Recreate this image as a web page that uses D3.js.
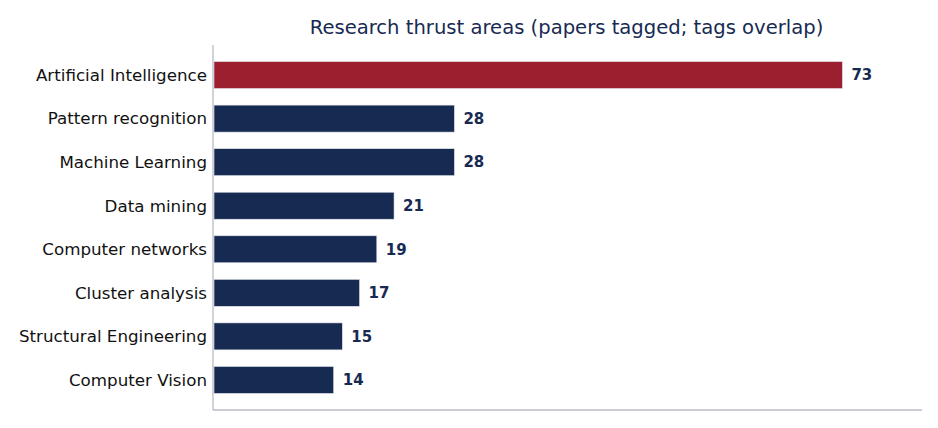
<!DOCTYPE html>
<html>
<head>
<meta charset="utf-8">
<script src="https://cdn.jsdelivr.net/npm/d3@7"></script>
<style>
  body { margin: 0; background: #fff; }
  text { font-family: "DejaVu Sans", sans-serif; }
</style>
</head>
<body>
<div id="chart"></div>
<script>
// data
const areas = [
  "Artificial Intelligence",
  "Pattern recognition",
  "Machine Learning",
  "Data mining",
  "Computer networks",
  "Cluster analysis",
  "Structural Engineering",
  "Computer Vision",
];
const papers = [73, 28, 28, 21, 19, 17, 15, 14];

const data = areas.map((a, i) => ({ area: a, count: papers[i] }));

// metrics
const width = 938;
const height = 428;
const marginTop = 45;
const marginLeft = 213;
const marginRight = 18;
const plotBottom = 410;

const navy = "#172a52";
const red = "#9b1f2e";

const svg = d3.select("#chart")
  .append("svg")
  .attr("width", width)
  .attr("height", height);

// scales
const xScale = d3.scaleLinear()
  .domain([0, 82])
  .range([marginLeft, width - marginRight]);

const yScale = d3.scaleBand()
  .domain(areas)
  .range([marginTop, plotBottom])
  .padding(0.38);

// bars
svg.append("g")
  .selectAll("rect")
  .data(data)
  .join("rect")
  .attr("x", xScale(0) + 1)
  .attr("y", (d) => yScale(d.area))
  .attr("width", (d) => xScale(d.count) - xScale(0) - 1)
  .attr("height", yScale.bandwidth())
  .attr("fill", (d, i) => (i === 0 ? red : navy))
  .attr("stroke", "#e6e8ee")
  .attr("stroke-width", 0.6);

// value labels
svg.append("g")
  .selectAll("text")
  .data(data)
  .join("text")
  .attr("x", (d) => xScale(d.count) + 9)
  .attr("y", (d) => yScale(d.area) + yScale.bandwidth() / 2)
  .attr("dy", "0.35em")
  .attr("font-size", 15)
  .attr("font-weight", "bold")
  .attr("fill", navy)
  .text((d) => d.count);

// category labels
svg.append("g")
  .selectAll("text")
  .data(data)
  .join("text")
  .attr("x", marginLeft - 6)
  .attr("y", (d) => yScale(d.area) + yScale.bandwidth() / 2)
  .attr("dy", "0.35em")
  .attr("text-anchor", "end")
  .attr("font-size", 16.7)
  .attr("fill", "#111")
  .text((d) => d.area);

// axis lines (left and bottom only)
svg.append("line")
  .attr("x1", marginLeft).attr("x2", marginLeft)
  .attr("y1", marginTop).attr("y2", plotBottom)
  .attr("stroke", "#b8bcc6").attr("stroke-width", 1.3);
svg.append("line")
  .attr("x1", marginLeft).attr("x2", xScale.range()[1] + 2)
  .attr("y1", plotBottom).attr("y2", plotBottom)
  .attr("stroke", "#b8bcc6").attr("stroke-width", 1.3);

// title
svg.append("text")
  .attr("x", (marginLeft + width - marginRight) / 2)
  .attr("y", 34)
  .attr("text-anchor", "middle")
  .attr("font-size", 19.6)
  .attr("fill", navy)
  .text("Research thrust areas (papers tagged; tags overlap)");
</script>
</body>
</html>
